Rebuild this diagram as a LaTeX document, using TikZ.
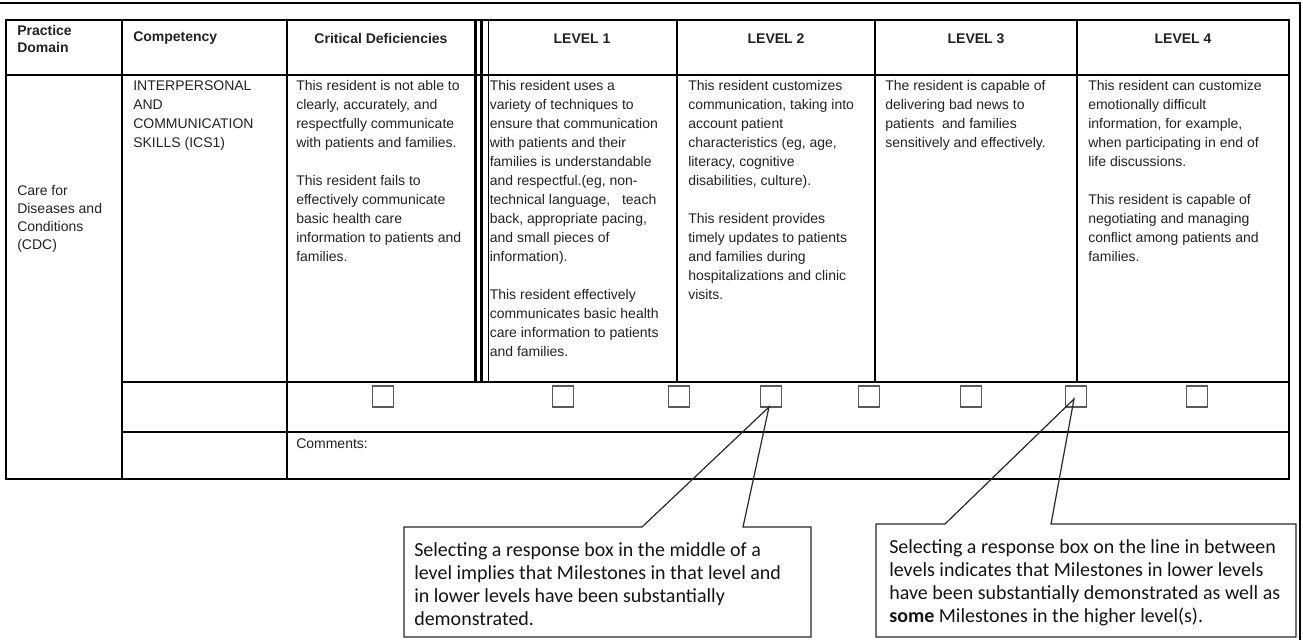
\documentclass[tikz,border=0pt]{standalone}
\usepackage{fontspec}
\setmainfont{Liberation Sans}
\newfontfamily\calibrifont{Carlito}

\begin{document}
\begin{tikzpicture}[x=0.75pt,y=0.75pt,yscale=-1,xscale=1,
  celltext/.style={anchor=north west,inner sep=0pt,align=left,font=\fontsize{10.5}{14.25}\selectfont,text={rgb, 255:red, 34; green, 34; blue, 34 }},
  headtext/.style={inner sep=0pt,align=left,font=\fontsize{10.5}{12.75}\selectfont\bfseries,text={rgb, 255:red, 34; green, 34; blue, 34 }},
  chkbox/.style={draw={rgb, 255:red, 89; green, 89; blue, 89 },line width=1.2pt,minimum size=15.5pt,inner sep=0pt},
  notetext/.style={anchor=north west,inner sep=0pt,align=left,font=\calibrifont\fontsize{15}{17.25}\selectfont,text={rgb, 255:red, 20; green, 20; blue, 20 }},
  callout/.style={draw={rgb, 255:red, 40; green, 40; blue, 40 },line width=0.9pt,line join=miter}
]
\useasboundingbox (0,0) rectangle (1303,640);

%Shape: Page frame
\draw [line width=0.9pt] (0,3) -- (1300,3) -- (1300,640) ;

%Shape: Table [id:table]
\draw [line width=0.9pt] (6,20) rectangle (1289,479) ;
\draw [line width=0.9pt] (6,75) -- (1289,75) ;
\draw [line width=0.9pt] (122,382) -- (1289,382) ;
\draw [line width=0.9pt] (122,432) -- (1289,432) ;
\draw [line width=0.9pt] (122,20) -- (122,479) ;
\draw [line width=0.9pt] (287,20) -- (287,479) ;
%Triple line before the levels
\draw [line width=2.1pt] (475.5,20) -- (475.5,382) ;
\draw [line width=2.1pt] (481.5,20) -- (481.5,382) ;
\draw [line width=1.2pt] (488.5,20) -- (488.5,382) ;
\draw [line width=0.9pt] (677,20) -- (677,382) ;
\draw [line width=0.9pt] (875,20) -- (875,382) ;
\draw [line width=0.9pt] (1077,20) -- (1077,382) ;

% Text Node
\draw (17,38.5) node [headtext,anchor=west] (hdDomain) {Practice\\Domain};
% Text Node
\draw (133,38.5) node [headtext,anchor=west] (hdComp) {Competency};
% Text Node
\draw (381,38.5) node [headtext] (hdCrit) {Critical Deficiencies};
% Text Node
\draw (582,38.5) node [headtext] (hdLvlA) {LEVEL 1};
% Text Node
\draw (776,38.5) node [headtext] (hdLvlB) {LEVEL 2};
% Text Node
\draw (976,38.5) node [headtext] (hdLvlC) {LEVEL 3};
% Text Node
\draw (1183,38.5) node [headtext] (hdLvlD) {LEVEL 4};

% Text Node
\draw (17,219) node [celltext,anchor=west,font=\fontsize{10.5}{13.5}\selectfont] (txDomain) {Care for\\Diseases and\\Conditions\\(CDC)};
% Text Node
\draw (133,80) node [celltext] (txComp) {INTERPERSONAL\\AND\\COMMUNICATION\\SKILLS (ICS1)};
% Text Node
\draw (296,80) node [celltext] (txCrit) {This resident is not able to\\clearly, accurately, and\\respectfully communicate\\with patients and families.\\[14.25pt]This resident fails to\\effectively communicate\\basic health care\\information to patients and\\families.};
% Text Node
\draw (489.5,80) node [celltext] (txLvlA) {This resident uses a\\variety of techniques to\\ensure that communication\\with patients and their\\families is understandable\\and respectful.(eg, non-\\technical language, \ \ teach\\back, appropriate pacing,\\and small pieces of\\information).\\[14.25pt]This resident effectively\\communicates basic health\\care information to patients\\and families.};
% Text Node
\draw (688,80) node [celltext] (txLvlB) {This resident customizes\\communication, taking into\\account patient\\characteristics (eg, age,\\literacy, cognitive\\disabilities, culture).\\[14.25pt]This resident provides\\timely updates to patients\\and families during\\hospitalizations and clinic\\visits.};
% Text Node
\draw (885,80) node [celltext] (txLvlC) {The resident is capable of\\delivering bad news to\\patients \ and families\\sensitively and effectively.};
% Text Node
\draw (1088,80) node [celltext] (txLvlD) {This resident can customize\\emotionally difficult\\information, for example,\\when participating in end of\\life discussions.\\[14.25pt]This resident is capable of\\negotiating and managing\\conflict among patients and\\families.};
% Text Node
\draw (296,444) node [celltext,anchor=west] (txComments) {Comments:};

%Shape: Response boxes
\draw (383,396.5) node [chkbox] (cbA) {};
\draw (563,396.5) node [chkbox] (cbB) {};
\draw (679,396.5) node [chkbox] (cbC) {};
\draw (771,396.5) node [chkbox] (cbD) {};
\draw (869,396.5) node [chkbox] (cbE) {};
\draw (971,396.5) node [chkbox] (cbF) {};
\draw (1076,396.5) node [chkbox] (cbG) {};
\draw (1197,396.5) node [chkbox] (cbH) {};

%Shape: Callout (middle of a level)
\coordinate (tipMid) at (769,407);
\draw [callout] (404,527) -- (642,527) -- (tipMid) -- (743,527) -- (811,527) -- (811,637) -- (404,637) -- cycle ;
% Text Node
\draw (414,542) node [notetext] (noteMid) {Selecting a response box in the middle of a\\level implies that Milestones in that level and\\in lower levels have been substantially\\demonstrated.};

%Shape: Callout (on the line between levels)
\coordinate (tipLine) at (1074,399);
\draw [callout] (876,524) -- (945,524) -- (tipLine) -- (1051,524) -- (1296,524) -- (1296,637) -- (876,637) -- cycle ;
% Text Node
\draw (889,539) node [notetext] (noteLine) {Selecting a response box on the line in between\\levels indicates that Milestones in lower levels\\have been substantially demonstrated as well as\\\textbf{some} Milestones in the higher level(s).};

\end{tikzpicture}
\end{document}
